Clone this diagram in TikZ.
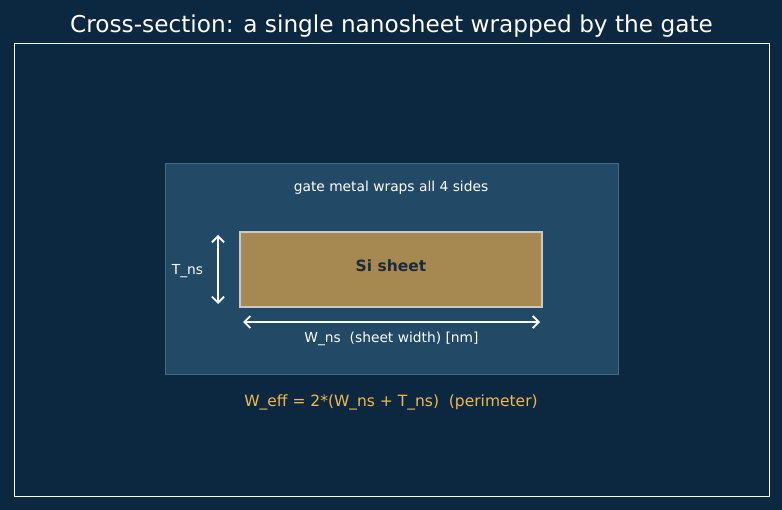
\documentclass[tikz,border=0pt]{standalone}
\usepackage{fontspec}
\setmainfont{DejaVu Sans}
\usetikzlibrary{arrows.meta}
\definecolor{bg}{HTML}{0C2841}
\definecolor{gatefill}{HTML}{224A66}
\definecolor{gateedge}{HTML}{426A85}
\definecolor{sifill}{HTML}{A68851}
\definecolor{siedge}{HTML}{C9C9C6}
\definecolor{sitext}{HTML}{1B2B3C}
\definecolor{formula}{HTML}{F1B84C}
\tikzset{
  lbl/.style={text=white, inner sep=0pt, font=\fontsize{13.8}{16}\selectfont},
  dim/.style={draw=white, line width=2pt, {Straight Barb[length=6pt,width=12pt,line width=1.8pt]}-{Straight Barb[length=6pt,width=12pt,line width=1.8pt]}},
}
\begin{document}
\begin{tikzpicture}[x=1pt,y=-1pt]
\fill[bg] (0,0) rectangle (782,510);
\useasboundingbox (0,0) rectangle (782,510);
\node[text=white, inner sep=0pt, font=\fontsize{23.2}{27}\selectfont] (title) at (391.5,26) {Cross-section: a single nanosheet wrapped by the gate};
\draw[white, line width=0.9pt] (14.5,43.5) rectangle (769.5,496.5);
\draw[fill=gatefill, draw=gateedge, line width=1pt] (165,164) rectangle (618,375);
\node[draw=siedge, fill=sifill, line width=2pt, minimum width=302pt, minimum height=75pt, inner sep=0pt] (si) at (391,269.5) {};
\node[text=sitext, inner sep=0pt, font=\fontsize{15.5}{18}\bfseries\selectfont] (sit) at (391,266) {Si sheet};
\node[lbl] (gt) at (391,188) {gate metal wraps all 4 sides};
\coordinate (t1) at (218,235);
\coordinate (t2) at (218,304);
\draw[dim] (t1) -- (t2);
\node[lbl] (tl) at (187.5,271) {T\_ns};
\coordinate (w1) at (243,322);
\coordinate (w2) at (540,322);
\draw[dim] (w1) -- (w2);
\node[lbl] (wl) at (391.5,339) {W\_ns\ \ (sheet width) [nm]};
\node[text=formula, inner sep=0pt, font=\fontsize{15.5}{18}\selectfont] (f) at (391,402.5) {W\_eff = 2*(W\_ns + T\_ns)\ \ (perimeter)};
\end{tikzpicture}
\end{document}
